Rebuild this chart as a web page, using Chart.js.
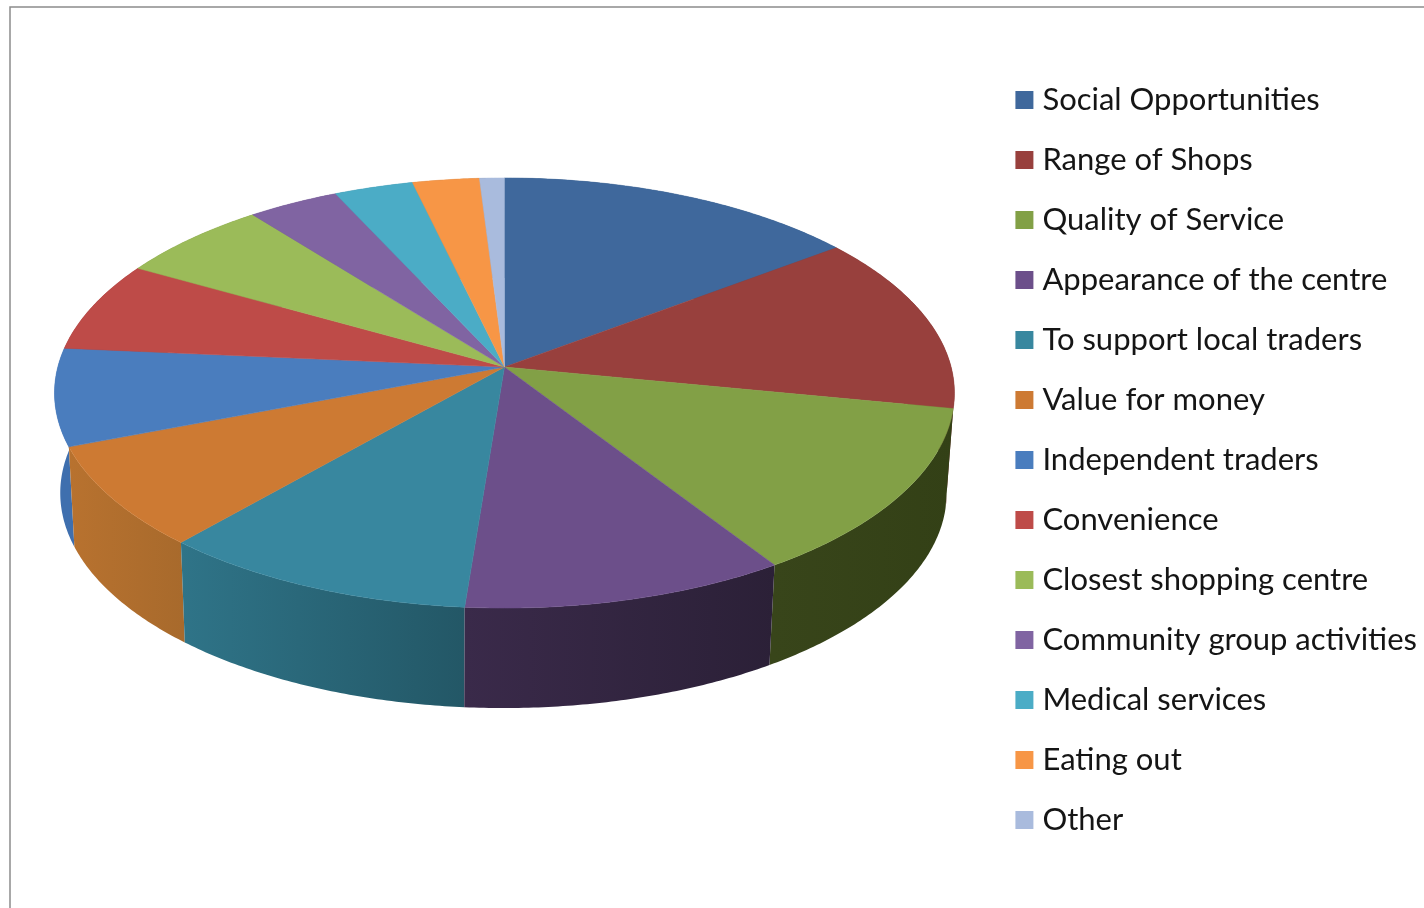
<!DOCTYPE html>
<html>
<head>
<meta charset="utf-8">
<title>Reasons for visiting</title>
<script src="https://cdn.jsdelivr.net/npm/chart.js@4"></script>
<style>
  html, body { margin: 0; background: #fff; overflow: hidden; }
  canvas { display: block; filter: blur(0.4px); }
</style>
</head>
<body>
<canvas id="pieChart" width="1424" height="908"></canvas>
<script>
const categories = ['Social Opportunities', 'Range of Shops', 'Quality of Service', 'Appearance of the centre',
  'To support local traders', 'Value for money', 'Independent traders', 'Convenience',
  'Closest shopping centre', 'Community group activities', 'Medical services', 'Eating out', 'Other'];
const shares = [14.7, 13.4, 12.8, 10.4, 10.2, 7.7, 7.3, 6.8, 6.2, 3.7, 3.2, 2.7, 1.0];

const topColors = ['#3f689c', '#98403d', '#82a046', '#6c4f8a', '#38879f', '#cd7a33', '#4a7dbe',
  '#be4b48', '#9bbb59', '#8064a2', '#4bacc6', '#f79646', '#a9bbdd'];
const sideLeft = ['#2e4d73', '#6f2c2a', '#38451a', '#3a2a4a', '#2f7488', '#b8722f', '#3f6fae',
  '#8a3634', '#708743', '#5c4875', '#367c8f', '#b26c33', '#7a87a0'];
const sideRight = ['#2e4d73', '#6f2c2a', '#334016', '#2b2037', '#235766', '#a86a2c', '#3f6fae',
  '#8a3634', '#708743', '#5c4875', '#367c8f', '#b26c33', '#7a87a0'];

// perspective of the disc, the pie is a circle seen from above and in front
const squash = 0.473, persp = 0.1209, widen = 0.997, liftY = 93;
const depth = 100, bottomScaleX = 0.985, bottomScaleY = 1, bottomShiftX = -1;

function rimPoint(arc, angle, bottom) {
  const w = 1 - persp * Math.sin(angle);
  let x = arc.outerRadius * widen * Math.cos(angle) / w;
  let y = arc.outerRadius * squash * Math.sin(angle) / w;
  if (bottom) {
    x = x * bottomScaleX + bottomShiftX;
    y = y * bottomScaleY + depth;
  }
  return { x: arc.x + x, y: arc.y - liftY + y };
}

function traceRim(ctx, arc, from, to, bottom) {
  const steps = Math.max(2, Math.ceil(Math.abs(to - from) / 0.01));
  for (let i = 0; i <= steps; i++) {
    const p = rimPoint(arc, from + (to - from) * i / steps, bottom);
    ctx.lineTo(p.x, p.y);
  }
}

const pie3d = {
  id: 'pie3d',
  beforeDraw(chart) {
    // frame of the pasted picture, top and left only
    const ctx = chart.ctx;
    ctx.save();
    ctx.strokeStyle = '#8c8c8c';
    ctx.lineWidth = 1.5;
    ctx.beginPath();
    ctx.moveTo(10, 908);
    ctx.lineTo(10, 7);
    ctx.lineTo(1424, 7);
    ctx.stroke();
    ctx.restore();
  },
  beforeDatasetDraw(chart) {
    const ctx = chart.ctx;
    const arcs = chart.getDatasetMeta(0).data;
    ctx.save();

    // walls first, back slices before front ones
    const order = arcs.map((arc, i) => i).sort((a, b) =>
      Math.sin((arcs[a].startAngle + arcs[a].endAngle) / 2) - Math.sin((arcs[b].startAngle + arcs[b].endAngle) / 2));
    order.forEach(i => {
      const arc = arcs[i];
      const s = rimPoint(arc, arc.startAngle), e = rimPoint(arc, arc.endAngle);
      const grad = ctx.createLinearGradient(Math.min(s.x, e.x), 0, Math.max(s.x, e.x) + 1, 0);
      grad.addColorStop(0, sideLeft[i]);
      grad.addColorStop(1, sideRight[i]);
      ctx.fillStyle = grad;
      ctx.beginPath();
      traceRim(ctx, arc, arc.startAngle, arc.endAngle, false);
      traceRim(ctx, arc, arc.endAngle, arc.startAngle, true);
      ctx.closePath();
      ctx.fill();
    });

    // top face
    arcs.forEach((arc, i) => {
      const c = rimPoint({ x: arc.x, y: arc.y, outerRadius: 0 }, 0);
      ctx.fillStyle = topColors[i];
      ctx.strokeStyle = topColors[i];
      ctx.lineWidth = 0.5;
      ctx.beginPath();
      ctx.moveTo(c.x, c.y);
      traceRim(ctx, arc, arc.startAngle, arc.endAngle, false);
      ctx.closePath();
      ctx.fill();
      ctx.stroke();
    });
    ctx.restore();
    return false;
  }
};

const ctx1 = document.getElementById('pieChart');

new Chart(ctx1, {
  type: 'pie',
  data: {
    labels: categories,
    datasets: [{
      label: 'Share of answers',
      data: shares,
      backgroundColor: topColors,
      borderWidth: 0
    }]
  },
  options: {
    responsive: false,
    animation: false,
    layout: { padding: { left: 16, top: 12, right: -3, bottom: 0 } },
    plugins: {
      tooltip: { enabled: false },
      legend: {
        position: 'right',
        labels: {
          color: '#151515',
          font: { family: 'Lato', size: 31 },
          usePointStyle: true,
          pointStyle: 'rect',
          boxWidth: 5,
          boxHeight: 18,
          padding: 29
        }
      }
    }
  },
  plugins: [pie3d]
});
</script>
</body>
</html>
